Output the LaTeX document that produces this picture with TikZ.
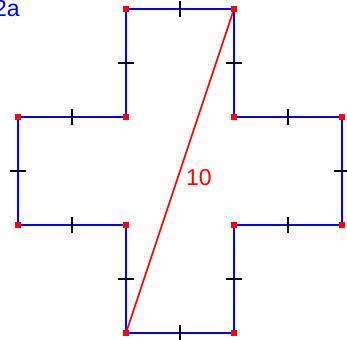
\documentclass[tikz,border=0pt]{standalone}
\usepackage{fontspec}
\setmainfont{Liberation Sans}
\usetikzlibrary{calc}
\begin{document}
\begin{tikzpicture}[x=1pt,y=-1pt,
  edge/.style={draw=blue,line width=2.4pt},
  diag/.style={draw=red,line width=1.6pt},
  tick/.style={draw=black,line width=1.3pt},
  vert/.style={fill=red,minimum size=5.5pt,inner sep=0pt,rectangle},
  lbl/.style={inner sep=0pt,font=\fontsize{23}{23}\selectfont}]
\useasboundingbox (0,0) rectangle (347,339);
\coordinate (A) at (126,9);
\coordinate (B) at (234,9);
\coordinate (C) at (234,117);
\coordinate (D) at (342,117);
\coordinate (E) at (342,225);
\coordinate (F) at (234,225);
\coordinate (G) at (234,333);
\coordinate (H) at (126,333);
\coordinate (I) at (126,225);
\coordinate (J) at (18,225);
\coordinate (K) at (18,117);
\coordinate (L) at (126,117);
\draw[edge] (A) -- (B) -- (C) -- (D) -- (E) -- (F) -- (G) -- (H) -- (I) -- (J) -- (K) -- (L) -- cycle;
\draw[diag] (H) -- (B);
% ticks
\foreach \p/\q in {A/B,C/D,F/G,J/K,L/A,B/C,D/E,E/F,G/H,H/I,I/J,K/L}{
  \path (\p) -- (\q) coordinate[pos=0.5] (m) ;
  \draw[tick] ($(m)!8pt!90:(\q)$) -- ($(m)!-8pt!90:(\q)$);
}
\foreach \v in {A,B,C,D,E,F,G,H,I,J,K,L}{
  \node[vert] at (\v) {};
}
\node[lbl,text=red,anchor=base west] (ten) at (186,185.7) {10};
\node[lbl,text=blue,anchor=base west] (twoa) at (-6,16.7) {2a};
\end{tikzpicture}
\end{document}
